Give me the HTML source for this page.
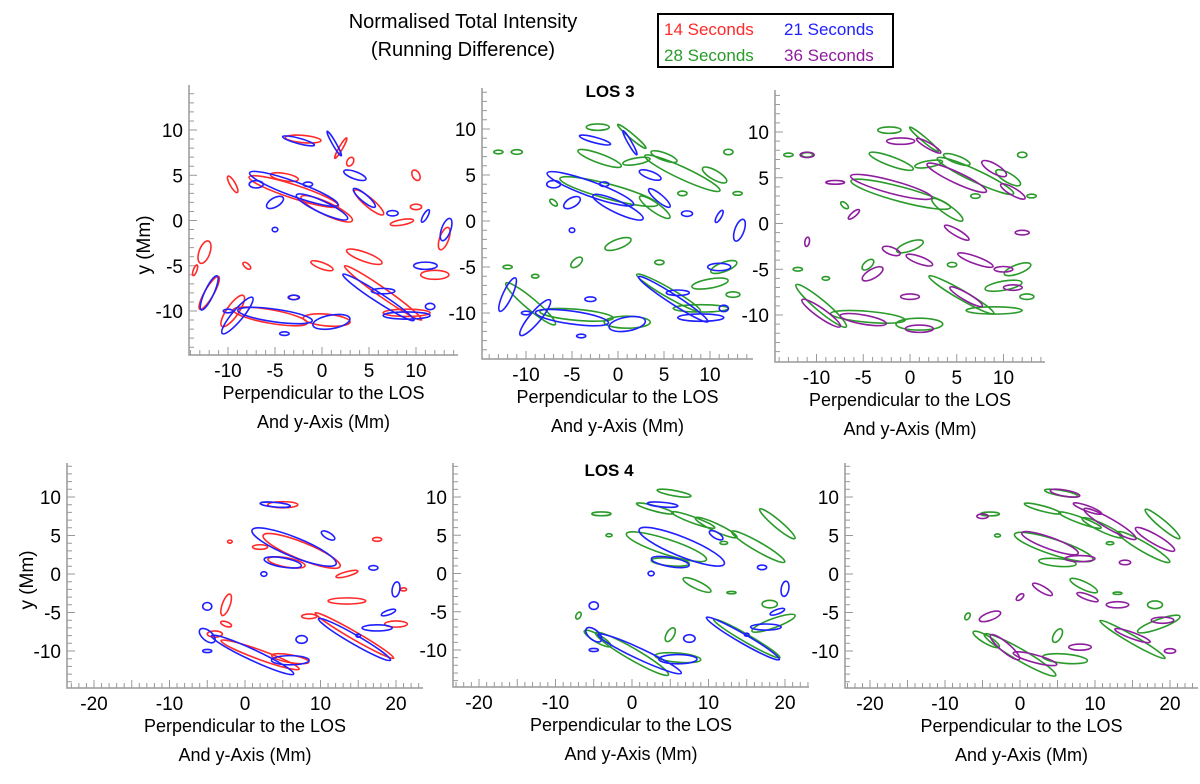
<!DOCTYPE html>
<html><head><meta charset="utf-8"><style>
body{margin:0;background:#fff;width:1200px;height:779px;overflow:hidden}
svg{font-family:"Liberation Sans",sans-serif}
</style></head><body>
<svg id="chart" width="1200" height="779" xmlns="http://www.w3.org/2000/svg">
<text x="463" y="28" font-size="20" text-anchor="middle">Normalised Total Intensity</text>
<text x="463" y="56" font-size="20" text-anchor="middle">(Running Difference)</text>
<g>
<rect x="658" y="14" width="235" height="53" fill="#fff" stroke="#000" stroke-width="2"/>
<text x="664" y="35" font-size="17" fill="#ff2a2a">14 Seconds</text>
<text x="784" y="35" font-size="17" fill="#2020ff">21 Seconds</text>
<text x="664" y="61" font-size="17" fill="#2a9a2a">28 Seconds</text>
<text x="784" y="61" font-size="17" fill="#8e1e9e">36 Seconds</text>
</g>
<text x="610" y="97" font-size="17" font-weight="bold" text-anchor="middle">LOS 3</text>
<text x="609" y="476" font-size="17" font-weight="bold" text-anchor="middle">LOS 4</text>
</svg>
<script>
// blob data: [x, y, length, thickness, angleDeg]
const los3Red=[[-2,9,3.8,0.8,-5],[2,8,2.5,0.4,60],[-3,3.2,10,1.5,-18],[0.5,1.3,6,1.4,-25],[5,2,4,1,-40],[-9.5,4,2,0.6,-60],[8.5,-0.2,2.5,0.6,10],[10,1.5,1.2,0.6,0],[10,5,1.2,0.8,-60],[13,-2,2.5,1,70],[12,-6,3,1,0],[4.5,-4,4,1,-20],[0,-5,2.5,0.7,-20],[-12.5,-3.5,2.5,1.2,70],[-12,-8,4,1,60],[-9.5,-10,4,1.3,55],[-5.5,-10.6,8,1.5,-10],[0.5,-11,5,1.3,-5],[6.5,-8,10,1,-35],[9,-10.2,5,0.8,0],[-3,-8.5,1,0.5,0],[-13.5,-5.5,1.2,0.4,70],[3,6.5,1,0.7,60],[-8,-5,1,0.5,-40],[-4,4.8,3,0.8,-10]];
const los3Blue=[[-2.5,8.8,3.5,0.6,-15],[1.3,8.5,3,0.4,-60],[-3,3.5,10,1.6,-20],[0,1.5,6,1.3,-25],[4.5,2.5,3,0.8,-40],[-7,4,1.5,0.8,0],[-5,2,2,1,30],[3.5,5,2.5,0.8,-20],[7.5,0.8,1.2,0.6,0],[11,0.5,1.5,0.5,60],[13.2,-1,2.5,1,70],[11,-5,2.5,0.8,0],[6.5,-7.8,2.5,0.6,0],[-12,-8,4,1,65],[-9,-10.5,5,1.2,50],[-5,-10.5,8,1.4,-8],[1,-11.2,4,1.5,10],[6,-8.5,9,1,-33],[9,-10.5,5,0.8,0],[-3,-8.5,1.2,0.5,0],[-4,-12.5,1,0.4,0],[-10,-10,1,0.4,0],[-5,-1,0.6,0.5,0],[11.5,-9.5,1,0.7,0],[-1.5,4,1,0.5,0]];
const los3Green=[[-2.2,10.2,2.5,0.7,0],[1.5,9.2,4,0.5,-40],[-2,6.8,5,1,-20],[2,6.5,3,0.7,10],[-11,7.5,1.2,0.5,0],[-13,7.5,1,0.4,0],[7,5.2,9,1.3,-25],[10.5,5,3,1,-30],[-1,3.2,11,1.6,-15],[4,1.5,4,1,-35],[0,-2.5,3,1,20],[-4.5,-4.5,1.5,0.8,40],[-9.5,-9,7,1.2,-40],[-4.5,-10.2,8,1.2,-5],[1,-11,5,1.3,0],[5.5,-7.8,8,1,-30],[9,-9.5,6,0.8,0],[10,-6.8,4,1,10],[11.5,-5,3,1,20],[12.5,-8,1.5,0.6,0],[4.5,-4.5,1,0.5,0],[7,3,1,0.5,0],[-7,2,1,0.5,-40],[12,7.5,1,0.6,0],[5,7,3,0.8,-20],[-9,-6,0.8,0.4,0],[-12,-5,1,0.4,0],[13,3,1,0.4,0]];
const los3Purple=[[-1,9,3,0.7,0],[2,8.5,3,0.6,-30],[-2,4,9,1.4,-15],[5,5,7,1.2,-25],[9,6,3,1,-30],[11,3.5,3,0.8,-30],[-11,7.5,1.5,0.6,0],[-8,4.5,2,0.4,0],[-6,1,1.5,0.5,40],[-2,-3,2,0.8,-20],[-4,-5.5,2.5,1,30],[1,-4,3,0.8,-20],[5,-1,3,0.7,-30],[7,-4,4,0.8,-20],[10,-5,2,0.6,0],[-9.5,-9.8,5,1,-35],[-5,-10.5,5,1,-10],[1,-11.5,3,0.8,0],[6,-8,4,0.8,-30],[11,-7,2,0.6,0],[-11,-2,1,0.5,80],[0,-8,2,0.6,0],[12,-1,1.5,0.5,0]];
const los4Red=[[5,9,4,0.8,0],[7.5,3,11,2.2,-22],[5.5,1.5,5,1.2,-10],[2,3.5,2,0.6,0],[-2.5,-4,3,1,70],[-4,-7.8,2,0.8,0],[-2.5,-6.5,1.5,0.6,-20],[2,-10.5,11,1.2,-20],[6,-11,5,1,-10],[14.5,-8,12,1,-30],[20,-6.5,3,0.8,0],[13.5,-3.5,5,0.8,0],[8.5,-5.5,2,0.6,0],[13.5,0,3,0.6,15],[17.5,4.5,1.2,0.5,0],[-2,4.2,0.6,0.4,0],[21,-2,0.8,0.4,0]];
const los4Blue=[[4,9,4,0.6,-5],[6.5,3.5,12,2.5,-22],[5,1.5,5,1.2,-10],[2.5,0,0.8,0.6,0],[-5,-4.2,1.2,1,0],[-5,-8,2.5,1.3,-40],[-5,-10,1.2,0.4,0],[1,-10.5,12,1.4,-25],[6,-11.2,5,1.2,0],[14.5,-8.5,11,1.2,-30],[17.5,-7,4,0.8,0],[19,-5,2,0.6,20],[20,-2,2,1,80],[17,0.8,1.2,0.6,0],[11,5,2,0.8,-30],[7.5,-8.5,1.5,1,0],[15,-8,0.6,0.4,0]];
const los4Green=[[5.5,10.5,4.5,0.7,-10],[3,8.5,5,0.7,-15],[-4,7.8,2.5,0.5,0],[8,7,6,0.8,-20],[11,6,6,1,-25],[16.5,3.5,8,1.2,-30],[19,6.5,6,1,-40],[4.5,3.5,11,2,-18],[5,1.5,5,1,-5],[8.5,-1.5,4,1,-25],[0,-10.5,11,1.5,-30],[6,-11,6,1.2,-5],[-4.5,-8.5,4,1,-30],[-7,-5.5,1,0.6,60],[5,-8,2,1,60],[15,-8.5,10,1,-30],[18.5,-6.5,6,1.2,20],[18,-4,2,1,0],[13,-2.5,1.2,0.3,0],[12,4,1,0.4,0],[-3,5,0.8,0.4,0]];
const los4Purple=[[6,10.5,4,0.8,-10],[9,8.5,4,0.7,-20],[-5,7.5,1.5,0.6,0],[12,6.5,8,1.3,-30],[18,4.5,6,1.2,-30],[4,4,8,1.5,-20],[8,2,4,0.8,0],[3,-2,3,0.8,-30],[9,-3,3,0.7,-20],[13,-4,3,0.8,0],[-4,-5.5,3,1,20],[-2,-9.5,5,1.2,-40],[2,-11,6,1,-15],[8,-9.5,3,0.8,0],[15,-8,5,0.8,-20],[19,-6,3,0.8,0],[0,-3,1.2,0.6,40],[14,1.5,1.5,0.6,0],[20,-10,1.5,0.6,0]];
const topXTicks=[-10,-5,0,5,10];
const botXTicks=[-20,-10,0,10,20];
const yTicks=[10,5,0,-5,-10];

const C={red:'#ff2a2a',blue:'#2020ff',green:'#2a9a2a',purple:'#8e1e9e'};
const NS='http://www.w3.org/2000/svg';
const svg=document.getElementById('chart');
function mk(t,a,p){const e=document.createElementNS(NS,t);for(const k in a)e.setAttribute(k,a[k]);(p||svg).appendChild(e);return e;}

const panels=[
 {name:'los3-14-21',L:189,R:458,T:85,B:355,x0:322,sx:9.4,y0:220.5,sy:9.05,xmin:-14,xmax:14,xt:topXTicks,minor:1,series:[[los3Red,'red'],[los3Blue,'blue']],ylab:true,ylx:150,yly:245},
 {name:'los3-21-28',L:482,R:753,T:88,B:359,x0:618,sx:9.2,y0:221,sy:9.2,xmin:-14,xmax:14,xt:topXTicks,minor:1,series:[[los3Green,'green'],[los3Blue,'blue']]},
 {name:'los3-28-36',L:775,R:1045,T:90,B:362,x0:910,sx:9.35,y0:223.5,sy:9.15,xmin:-14,xmax:14,xt:topXTicks,minor:1,series:[[los3Green,'green'],[los3Purple,'purple']]},
 {name:'los4-14-21',L:67,R:423,T:463,B:688,x0:245,sx:7.55,y0:574,sy:7.7,xmin:-23,xmax:23,xt:botXTicks,minor:1,series:[[los4Red,'red'],[los4Blue,'blue']],ylab:true,ylx:33,yly:580},
 {name:'los4-21-28',L:453,R:809,T:463,B:687,x0:632,sx:7.65,y0:573.5,sy:7.65,xmin:-23,xmax:23,xt:botXTicks,minor:1,series:[[los4Green,'green'],[los4Blue,'blue']]},
 {name:'los4-28-36',L:845,R:1198,T:463,B:688,x0:1020,sx:7.5,y0:574,sy:7.7,xmin:-23,xmax:23,xt:botXTicks,minor:1,series:[[los4Green,'green'],[los4Purple,'purple']]}
];
panels.forEach(p=>{
 const g=mk('g',{});
 
 
 const X=v=>p.x0+v*p.sx, Y=v=>p.y0-v*p.sy;
 // axes
 const ax=mk('path',{d:`M${p.L} ${p.T}V${p.B}H${p.R}`,stroke:'#999',fill:'none','stroke-width':1.5},g);
 
 
 let d='';
 for(let v=-14;v<=14;v++){const y=Y(v);if(y<p.T||y>p.B)continue;d+=`M${p.L} ${y}h${v%5==0?8:5}`;}
 for(let v=Math.ceil(p.xmin);v<=p.xmax;v++){const x=X(v);if(x<p.L||x>p.R)continue;d+=`M${x} ${p.B}v-${v%5==0?8:5}`;}
 mk('path',{d:d,stroke:'#999','stroke-width':1,fill:'none'},g);
 yTicks.forEach(v=>{const t=mk('text',{x:p.L-6,y:Y(v)+7,'font-size':19,'text-anchor':'end'},g);t.textContent=v;
  
  });
 p.xt.forEach(v=>{const t=mk('text',{x:X(v),y:p.B+22,'font-size':19,'text-anchor':'middle'},g);t.textContent=v;
  
  });
 const cx=(p.L+p.R)/2;
 const t1=mk('text',{x:cx,y:p.B+44,'font-size':18,'text-anchor':'middle'},g);t1.textContent='Perpendicular to the LOS';
 
 
 const t2=mk('text',{x:cx,y:p.B+73,'font-size':18,'text-anchor':'middle'},g);t2.textContent='And y-Axis (Mm)';
 
 
 if(p.ylab){const t=mk('text',{x:p.ylx,y:p.yly,'font-size':19,'text-anchor':'middle',transform:`rotate(-90 ${p.ylx} ${p.yly})`},g);t.textContent='y (Mm)';
  
  }
 p.series.forEach(([arr,col])=>{
  const sg=mk('g',{},g);
  
  
  arr.forEach(b=>{
   const e=mk('ellipse',{cx:X(b[0]),cy:Y(b[1]),rx:Math.max(1.2,b[2]*p.sx/2),ry:Math.max(1.2,b[3]*p.sy/2),transform:`rotate(${-b[4]} ${X(b[0])} ${Y(b[1])})`,fill:'none',stroke:C[col],'stroke-width':1.6},sg);
   
   
  });
 });
});
</script>
</body></html>
